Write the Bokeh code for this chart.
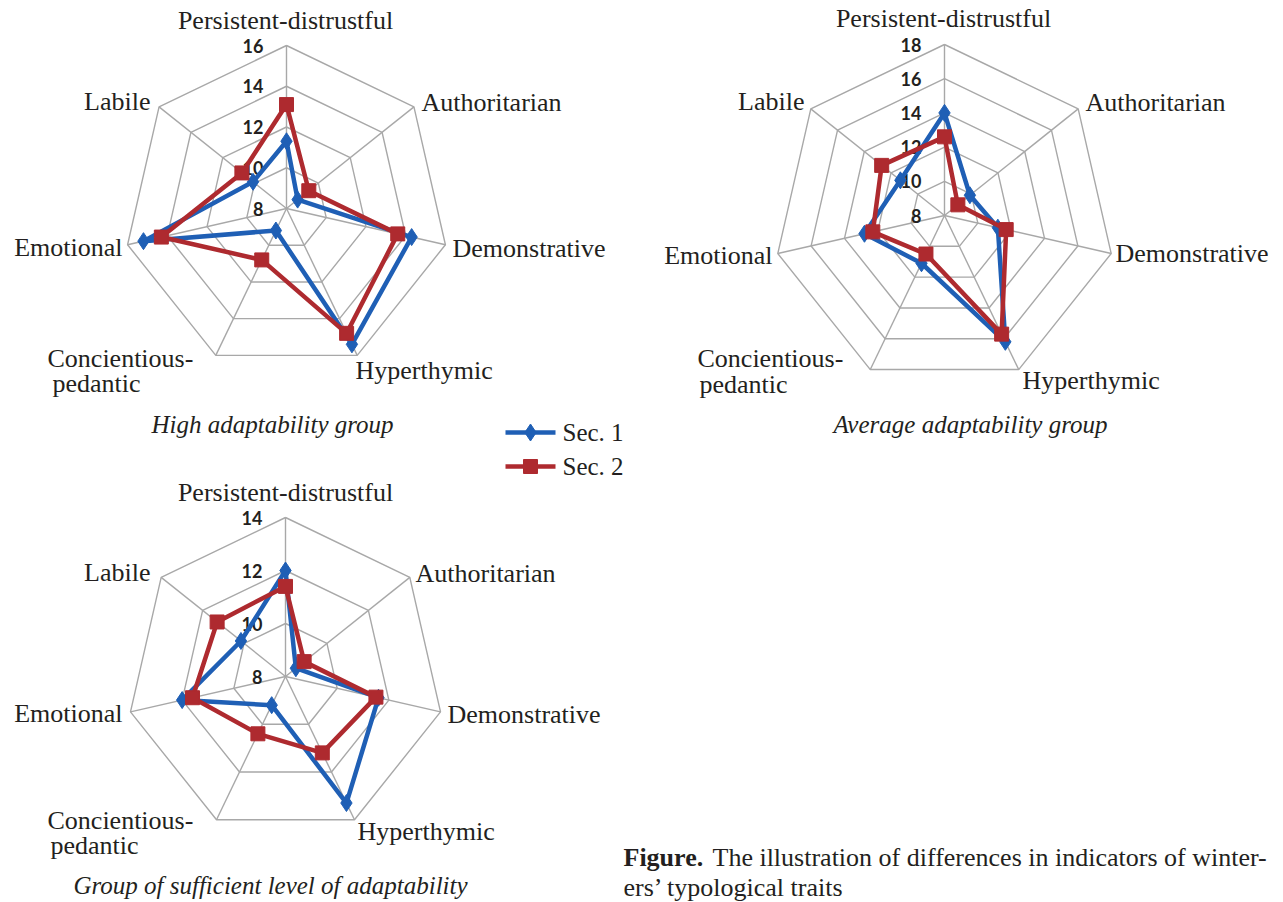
import math
from bokeh.plotting import figure
from bokeh.models import Range1d
from bokeh.core.properties import value
from bokeh.embed import file_html
from bokeh.resources import INLINE

# ---------------- data ----------------
categories = ["Persistent-distrustful", "Authoritarian", "Demonstrative", "Hyperthymic",
              "Concientious-pedantic", "Emotional", "Labile"]

high_sec1 = [11.3, 8.7, 14.3, 15.4, 9.2, 15.2, 10.1]
high_sec2 = [13.1, 9.4, 13.6, 14.8, 10.8, 14.3, 10.8]
avg_sec1 = [14.0, 9.9, 11.2, 16.2, 11.1, 12.8, 11.3]
avg_sec2 = [12.6, 9.0, 11.7, 15.7, 10.5, 12.3, 12.7]
suf_sec1 = [12.0, 8.5, 11.6, 13.3, 9.2, 12.0, 10.15]
suf_sec2 = [11.4, 8.9, 11.5, 11.2, 10.4, 11.6, 11.3]

high_ticks = [8, 10, 12, 14, 16]
avg_ticks = [8, 10, 12, 14, 16, 18]
suf_ticks = [8, 10, 12, 14]

series_names = ["Sec. 1", "Sec. 2"]
titles = ["High adaptability group", "Average adaptability group",
          "Group of sufficient level of adaptability"]
caption_bold = "Figure."
caption_line1 = "The illustration of differences in indicators of winter-"
caption_line2 = "ers\u2019 typological traits"

# ---------------- styles / layout ----------------
BLUE = "#1f5fb5"
RED = "#ae2a2f"
GRID = "#a8a8a8"
TXT = "#231f20"
SERIF = value("Liberation Serif")
LBL = "26px"

W, H = 1283, 902
p = figure(width=W, height=H, x_range=Range1d(0, W), y_range=Range1d(H, 0),
           output_backend="svg", toolbar_location=None, min_border=0,
           x_axis_type=None, y_axis_type=None)
p.xgrid.visible = False
p.ygrid.visible = False
p.outline_line_color = None
p.background_fill_color = "white"
p.border_fill_color = "white"

N = len(categories)
angles = [math.pi / 2 - 2 * math.pi * k / N for k in range(N)]


def to_xy(cx, cy, R, vmin, vmax, vals):
    xs, ys = [], []
    for v, a in zip(vals, angles):
        r = (v - vmin) / (vmax - vmin) * R
        xs.append(cx + r * math.cos(a))
        ys.append(cy - r * math.sin(a))
    return xs, ys


def radar(cx, cy, R, ticks, s1, s2, labels, title, title_pos):
    vmin, vmax = ticks[0], ticks[-1]
    # rings
    for t in ticks[1:]:
        xs, ys = to_xy(cx, cy, R, vmin, vmax, [t] * N)
        p.line(xs + [xs[0]], ys + [ys[0]], line_color=GRID, line_width=1.4)
    # spokes
    ox, oy = to_xy(cx, cy, R, vmin, vmax, [vmax] * N)
    p.segment(x0=[cx] * N, y0=[cy] * N, x1=ox, y1=oy, line_color=GRID, line_width=1.4)
    # tick labels
    tx = [cx - 23] * len(ticks)
    ty = [cy - (t - vmin) / (vmax - vmin) * R for t in ticks]
    p.text(x=tx, y=ty, text=[str(t) for t in ticks], text_font=value("Lato"),
           text_font_style="bold", text_font_size="18px", text_align="right",
           text_baseline="middle", text_color=TXT)
    # series
    bx, by = to_xy(cx, cy, R, vmin, vmax, s1)
    p.line(bx + [bx[0]], by + [by[0]], line_color=BLUE, line_width=4.5, line_join="round")
    p.scatter(bx, by, marker="diamond", size=17, fill_color=BLUE, line_color=BLUE)
    rx, ry = to_xy(cx, cy, R, vmin, vmax, s2)
    p.line(rx + [rx[0]], ry + [ry[0]], line_color=RED, line_width=4.5, line_join="round")
    p.scatter(rx, ry, marker="square", size=14, fill_color=RED, line_color=RED)
    # category labels
    for (x, y, txt, al) in labels:
        p.text(x=[x], y=[y], text=[txt], text_font=SERIF, text_font_size=LBL,
               text_align=al, text_baseline="middle", text_color=TXT)
    p.text(x=[title_pos[0]], y=[title_pos[1]], text=[title], text_font=SERIF,
           text_font_style="italic", text_font_size="25px", text_align="center",
           text_baseline="middle", text_color=TXT)


c = categories
radar(286, 208, 163, high_ticks, high_sec1, high_sec2,
      [(285, 20, c[0], "center"), (421, 102, c[1], "left"), (452, 248, c[2], "left"),
       (355, 370, c[3], "left"), (47, 358, "Concientious-", "left"), (52, 383, "pedantic", "left"),
       (122, 247, c[5], "right"), (150, 101, c[6], "right")],
      titles[0], (272, 424))

radar(944, 215, 171, avg_ticks, avg_sec1, avg_sec2,
      [(943, 18, c[0], "center"), (1085, 102, c[1], "left"), (1115, 253, c[2], "left"),
       (1022, 380, c[3], "left"), (697, 358, "Concientious-", "left"), (699, 384, "pedantic", "left"),
       (772, 255, c[5], "right"), (804, 101, c[6], "right")],
      titles[1], (970, 424))

radar(285, 676, 159, suf_ticks, suf_sec1, suf_sec2,
      [(285, 492, c[0], "center"), (415, 573, c[1], "left"), (447, 714, c[2], "left"),
       (357, 831, c[3], "left"), (47, 820, "Concientious-", "left"), (50, 845, "pedantic", "left"),
       (122, 713, c[5], "right"), (150, 572, c[6], "right")],
      titles[2], (270, 885))

# legend
p.segment(x0=[505], y0=[432], x1=[555], y1=[432], line_color=BLUE, line_width=4.5)
p.scatter([530], [432], marker="diamond", size=17, fill_color=BLUE, line_color=BLUE)
p.segment(x0=[505], y0=[466], x1=[555], y1=[466], line_color=RED, line_width=4.5)
p.scatter([530], [466], marker="square", size=14, fill_color=RED, line_color=RED)
p.text(x=[562, 562], y=[432, 466], text=series_names, text_font=SERIF, text_font_size="25px",
       text_align="left", text_baseline="middle", text_color=TXT)

# caption
p.text(x=[623], y=[857], text=[caption_bold], text_font=SERIF, text_font_style="bold",
       text_font_size=LBL, text_align="left", text_baseline="middle", text_color=TXT)
p.text(x=[712], y=[857], text=[caption_line1], text_font=SERIF,
       text_font_size=LBL, text_align="left", text_baseline="middle", text_color=TXT)
p.text(x=[623], y=[887], text=[caption_line2], text_font=SERIF,
       text_font_size=LBL, text_align="left", text_baseline="middle", text_color=TXT)

open("out.html", "w").write(file_html(p, INLINE))
